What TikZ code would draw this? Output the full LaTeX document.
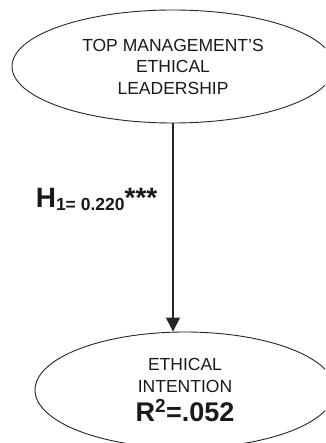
\documentclass[tikz,border=0pt]{standalone}
\usepackage{fontspec}
\setmainfont{Liberation Sans}
\usetikzlibrary{shapes.geometric,arrows.meta}
\begin{document}
\begin{tikzpicture}[x=1pt,y=-1pt,
 oval/.style={ellipse, draw=black!85, line width=0.9pt, inner sep=0pt, align=center,
   font=\fontsize{17.5}{21.5}\selectfont, text=black!90},
 link/.style={draw=black!85, line width=1.4pt, -{Triangle[length=14pt,width=14pt]}},
 hlabel/.style={anchor=base east, inner sep=0pt, text=black!90,
   font=\fontsize{28}{28}\selectfont\bfseries}]
\useasboundingbox (0,0) rectangle (325,443);
\clip (0,0) rectangle (325,443);
\node[oval, minimum width=322pt, minimum height=113pt] (lead) at (173,66.5)
  {TOP MANAGEMENT'S\\ETHICAL\\LEADERSHIP};
\node[oval, minimum width=300pt, minimum height=116pt] (int) at (185,390)
  {ETHICAL\\INTENTION\\[5.5pt]{\fontsize{27}{27}\selectfont\bfseries R\textsuperscript{2}=.052}};
\draw[link] (lead.south) -- node[hlabel, pos=0.402, xshift=-15pt]
  {H\raisebox{-3pt}{\fontsize{17.5}{17.5}\selectfont 1= 0.220}***}
  (lead.south |- int.north);
\end{tikzpicture}
\end{document}
